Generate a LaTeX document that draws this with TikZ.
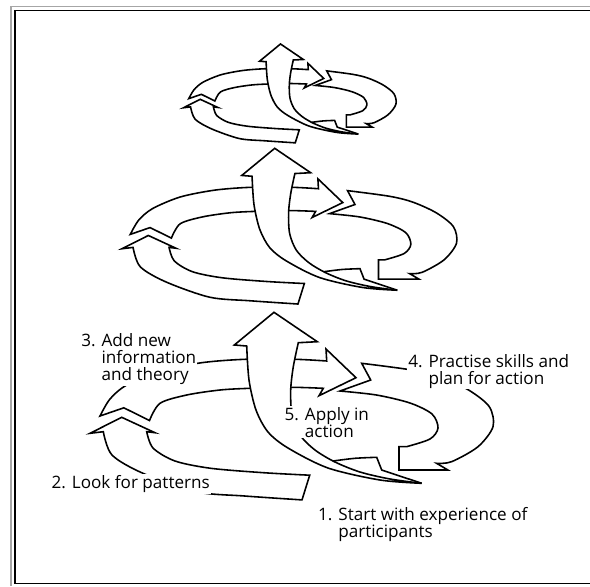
\documentclass[tikz,border=0pt]{standalone}
\usepackage{fontspec}
\setmainfont{Open Sans}

\tikzset{
	band/.style={draw=black, fill=white, line width=1.35pt},
	steplabel/.style={fill=white, inner sep=1pt, align=left, anchor=base west,
		font=\fontsize{14.6}{14.5}\selectfont},
	spiralturn/.pic={
		% 2. bottom band, head up on the left
		\draw[band] (309.7,475.2) -- (302,499.9)
			-- plot[smooth] coordinates {(302,499.9) (244.6,496) (195.7,491.7) (143,473.3) (112,455) (103.3,431.7)}
			-- (90,433.3) -- (121.7,417.3) -- (155,432.7) -- (146.7,431.7)
			-- plot[smooth] coordinates {(146.7,431.7) (153,448) (175,461) (210.8,468.3) (263.5,472.7) (309.7,475.2)}
			-- cycle;
		% 3. over the top, head to the right
		\draw[band] (100,416) -- (123.8,407.8) -- (149.5,420.5)
			-- plot[smooth] coordinates {(149.5,420.5) (160,403.3) (186.7,395) (220,390) (250,388.3) (291.7,387.3) (323.3,388.3)}
			-- (319,395.7) -- (356,377.7) -- (326,349) -- (326.7,361)
			-- plot[smooth] coordinates {(326.7,361) (295,359.3) (245,359.3) (201.7,362.7) (160,371) (126.7,385) (110,399) (100,416)}
			-- cycle;
		% 4. round the right side, head down
		\draw[band] (361.7,363.3) -- (370.7,380) -- (340,391)
			-- plot[smooth] coordinates {(340,391) (376.4,395) (410,403) (432,414) (438,428) (430,439) (406.5,446.7)}
			-- (399,446.7) -- (399,470) -- (447.9,470) -- (436.6,463.3)
			-- plot[smooth] coordinates {(436.6,463.3) (451.6,461.7) (478,446.7) (493,426.7) (489.3,406.7) (468.6,390) (440,377) (411.7,370) (361.7,363.3)}
			-- cycle;
		% 5. up through the middle to the next turn
		\draw[band] (274,312.3) -- (317.3,341.7) -- (298.3,342.7)
			-- plot[smooth] coordinates {(298.3,342.7) (293.3,366.7) (290.7,390) (292,415) (300,435) (315,450) (335,462) (360,472) (390,479) (421.7,483.3)}
			-- plot[smooth] coordinates {(421.7,483.3) (380,480) (328,468) (288,448) (268,432) (256,410) (249,380) (246.7,346)}
			-- (234.3,345) -- cycle;
		% 1. barb on the tail
		\draw[band, fill=none] plot[smooth] coordinates {(333,461) (355,458.3) (376.7,457.3)}
			-- (381.7,470) -- (421.7,483.3);
	}
}

\begin{document}
\begin{tikzpicture}[x=0.03cm, y=-0.03cm]
	\useasboundingbox (0,0) rectangle (590,586);
	% frame
	\draw[black!35, line width=0.9pt] (11,586) -- (11,6.8) -- (590,6.8);
	\draw[line width=1.3pt] (593,583.5) -- (15,583.5) -- (15,10.5) -- (593,10.5);

	% three turns, smaller towards the top
	\pic (turnone) at (0,0) {spiralturn};
	\pic[scale=0.83] (turntwo) at (47.3,-110.9) {spiralturn};
	\pic[scale=0.527] (turnthree) at (136.1,-120.6) {spiralturn};

	% labels sit on the baseline of their last line
	\node[steplabel] (addnew) at (80,380.7) {3. Add new\\\hphantom{3. }information\\\hphantom{3. }and theory};
	\node[steplabel] (practise) at (407,384) {4. Practise skills and\\\hphantom{4. }plan for action};
	\node[steplabel] (apply) at (283.3,437) {5. Apply in\\\hphantom{5. }action};
	\node[steplabel] (patterns) at (50.3,488.5) {2. Look for patterns};
	\node[steplabel] (start) at (316.7,537) {1. Start with experience of\\\hphantom{1. }participants};
\end{tikzpicture}
\end{document}
